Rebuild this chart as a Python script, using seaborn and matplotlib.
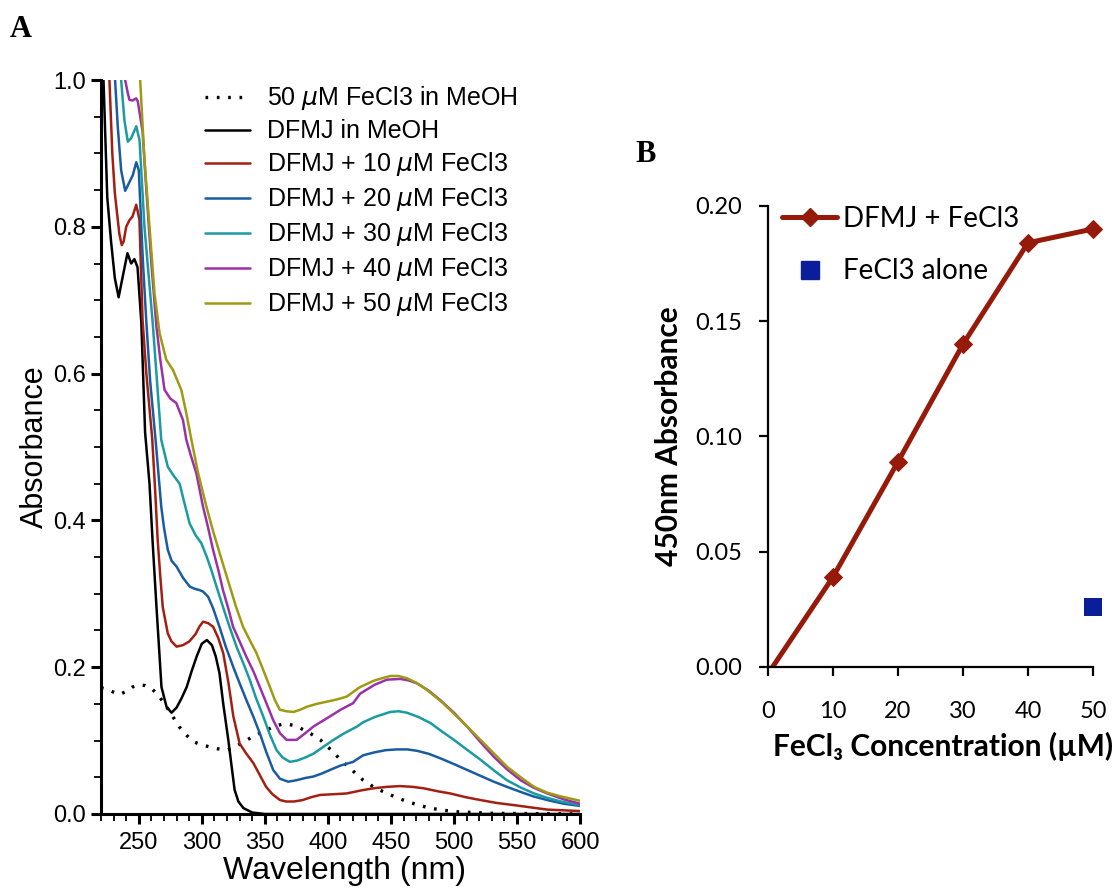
import matplotlib
matplotlib.use("Agg")
import matplotlib.pyplot as plt
import seaborn as sns
from matplotlib.lines import Line2D
from matplotlib.patches import Rectangle
from matplotlib.ticker import MultipleLocator, FormatStrFormatter

sns.set_style("ticks")
plt.rcParams['font.family'] = ['Liberation Sans', 'DejaVu Sans']
plt.rcParams['mathtext.fontset'] = 'dejavusans'
for k in ["text.color", "axes.labelcolor", "xtick.color", "ytick.color", "axes.edgecolor"]:
    plt.rcParams[k] = "black"

# ---------------- Panel A data (wavelength nm, absorbance) ----------------
fecl3_wl = [220, 225, 230, 235, 240, 245, 250, 255, 260, 265, 272, 278, 282, 288, 294, 300, 305,
            312, 320, 326, 333, 340, 346, 351, 358, 366, 372, 378, 385, 394, 402, 410, 419, 428,
            437, 447, 455, 463, 472, 481, 492, 503, 529, 600]
fecl3_abs = [0.172, 0.170, 0.166, 0.163, 0.167, 0.173, 0.176, 0.175, 0.171, 0.163, 0.146, 0.130,
             0.119, 0.107, 0.098, 0.094, 0.092, 0.089, 0.087, 0.091, 0.098, 0.105, 0.110, 0.114,
             0.120, 0.123, 0.121, 0.117, 0.111, 0.101, 0.088, 0.074, 0.060, 0.046, 0.036, 0.028,
             0.022, 0.017, 0.012, 0.008, 0.005, 0.003, 0.001, 0.000]

dfmj_wl = [221.5, 222, 225, 228, 231, 234, 237, 241, 244, 246.5, 249, 252, 255, 258.5, 261, 264,
           268, 272, 276, 280, 284, 288, 292, 296, 300, 304, 308, 311, 314, 317, 321, 324, 326,
           329, 333, 340, 350, 600]
dfmj_abs = [1.02, 1.00, 0.84, 0.78, 0.73, 0.704, 0.73, 0.764, 0.75, 0.756, 0.745, 0.67, 0.52,
            0.45, 0.37, 0.283, 0.173, 0.146, 0.138, 0.145, 0.158, 0.173, 0.195, 0.215, 0.232,
            0.237, 0.230, 0.215, 0.192, 0.150, 0.101, 0.060, 0.033, 0.017, 0.008, 0.002, 0.0, 0.0]

fe10_wl = [226.2, 226.7, 229, 231, 234.6, 236.5, 238, 240, 242.6, 245, 248, 250.5, 253, 256, 260.7,
           263, 265, 267, 269, 273, 276, 280, 285, 290, 295, 298, 301, 305, 309, 313, 317, 321,
           325, 330, 335, 341, 346, 351, 356, 362, 367, 373, 380, 387, 394, 405, 415, 426, 436,
           447, 457, 467, 476, 487, 497, 509, 521, 534, 548, 561, 574, 587, 600]
fe10_abs = [1.02, 1.00, 0.90, 0.846, 0.79, 0.775, 0.78, 0.80, 0.809, 0.814, 0.83, 0.81, 0.673,
            0.60, 0.51, 0.44, 0.373, 0.325, 0.282, 0.246, 0.235, 0.228, 0.230, 0.235, 0.245,
            0.255, 0.262, 0.260, 0.255, 0.240, 0.219, 0.180, 0.133, 0.096, 0.083, 0.069, 0.053,
            0.037, 0.027, 0.019, 0.017, 0.017, 0.019, 0.023, 0.026, 0.027, 0.028, 0.032, 0.035,
            0.037, 0.038, 0.037, 0.035, 0.031, 0.028, 0.023, 0.019, 0.015, 0.012, 0.009, 0.006,
            0.005, 0.004]

fe20_wl = [230.7, 231.2, 233.3, 236, 239.2, 242.6, 245.2, 248, 250, 253.2, 256, 259, 263.3, 267.8,
           270, 273, 276, 280, 285, 290.3, 294, 298.3, 301, 305, 309, 314, 319, 325, 330, 335.4,
           341, 346, 351, 356.6, 362, 368.5, 375, 382, 388.4, 395, 401.7, 410, 420, 428, 437,
           446, 455, 463, 471, 480, 489, 500, 510.5, 521, 531.6, 542, 553, 563, 574, 587, 600]
fe20_abs = [1.02, 1.00, 0.937, 0.877, 0.849, 0.861, 0.870, 0.888, 0.877, 0.755, 0.67, 0.59, 0.51,
            0.419, 0.39, 0.36, 0.345, 0.337, 0.322, 0.310, 0.307, 0.305, 0.303, 0.296, 0.280,
            0.255, 0.228, 0.200, 0.178, 0.155, 0.132, 0.110, 0.085, 0.060, 0.048, 0.044, 0.046,
            0.049, 0.051, 0.055, 0.060, 0.066, 0.071, 0.080, 0.084, 0.087, 0.088, 0.088, 0.086,
            0.082, 0.076, 0.068, 0.060, 0.052, 0.044, 0.037, 0.030, 0.024, 0.019, 0.014, 0.011]

fe30_wl = [235.5, 236, 238.6, 241.3, 244, 248, 250.6, 254.5, 258, 261, 264, 267.8, 273, 278,
           282.4, 286, 290.3, 295, 299.6, 304, 307.6, 312, 316.8, 322, 327.5, 333, 338, 343,
           348.7, 354, 359.3, 364, 370, 376, 382, 388.4, 396, 404.4, 413, 423, 428, 437, 449.4,
           456, 462.7, 472, 481.3, 490, 500, 510, 521, 532, 542, 553, 563.5, 574, 585, 600]
fe30_abs = [1.02, 1.00, 0.945, 0.916, 0.921, 0.937, 0.918, 0.80, 0.73, 0.67, 0.60, 0.51, 0.473,
            0.460, 0.450, 0.425, 0.396, 0.380, 0.369, 0.350, 0.332, 0.308, 0.282, 0.255, 0.228,
            0.205, 0.183, 0.158, 0.133, 0.108, 0.087, 0.077, 0.071, 0.073, 0.077, 0.082, 0.091,
            0.101, 0.110, 0.119, 0.125, 0.132, 0.139, 0.140, 0.138, 0.132, 0.124, 0.113, 0.101,
            0.088, 0.074, 0.059, 0.046, 0.036, 0.028, 0.022, 0.017, 0.012]

fe40_wl = [238.7, 239.2, 241.3, 242.6, 245, 247.9, 249.2, 253, 256, 260, 264, 267, 270.4, 275,
           279.7, 285, 287.7, 291, 295.7, 300.9, 305, 308.9, 313, 316.8, 321, 324.8, 330, 335.4,
           341, 346, 351, 356.6, 362, 367.3, 375.2, 382, 388.4, 395, 401.7, 410, 420, 425.6, 437,
           446.8, 457.4, 464, 470.7, 480, 489.2, 500, 510.5, 521, 531.6, 542, 552.9, 563, 574,
           587, 600]
fe40_abs = [1.02, 1.00, 0.982, 0.973, 0.972, 0.975, 0.971, 0.93, 0.85, 0.75, 0.664, 0.62, 0.578,
            0.566, 0.560, 0.537, 0.510, 0.490, 0.464, 0.419, 0.390, 0.360, 0.333, 0.305, 0.280,
            0.255, 0.235, 0.214, 0.194, 0.173, 0.152, 0.128, 0.110, 0.101, 0.101, 0.110, 0.119,
            0.126, 0.133, 0.142, 0.151, 0.164, 0.176, 0.183, 0.184, 0.182, 0.178, 0.168, 0.155,
            0.138, 0.119, 0.098, 0.078, 0.061, 0.046, 0.036, 0.028, 0.020, 0.014]

fe50_wl = [250.6, 251.1, 254.5, 258.5, 262.5, 266.5, 271.8, 277.1, 283.7, 287.7, 291.7, 297, 303.6,
           309, 314.2, 322.2, 327, 332.7, 338, 343.4, 349, 354, 358, 361.9, 367, 372.6, 378,
           383.2, 391, 399.1, 407, 415, 425.6, 437, 449.4, 456, 462.7, 470, 478.6, 490, 499.9,
           510, 521, 532, 542.3, 553, 563.5, 574, 584.7, 600]
fe50_abs = [1.02, 1.00, 0.891, 0.80, 0.709, 0.655, 0.619, 0.605, 0.578, 0.546, 0.510, 0.465,
            0.419, 0.385, 0.355, 0.310, 0.283, 0.255, 0.237, 0.219, 0.195, 0.173, 0.155, 0.142,
            0.140, 0.139, 0.142, 0.146, 0.150, 0.153, 0.156, 0.160, 0.173, 0.182, 0.188, 0.188,
            0.185, 0.179, 0.169, 0.153, 0.137, 0.120, 0.101, 0.082, 0.064, 0.050, 0.037, 0.029,
            0.024, 0.018]

labels_A = ["50 $\\mu$M FeCl3 in MeOH", "DFMJ in MeOH", "DFMJ + 10 $\\mu$M FeCl3",
            "DFMJ + 20 $\\mu$M FeCl3", "DFMJ + 30 $\\mu$M FeCl3", "DFMJ + 40 $\\mu$M FeCl3",
            "DFMJ + 50 $\\mu$M FeCl3"]
colors_A = ["black", "black", "#A31F12", "#1A5CA0", "#1A9BA0", "#9B30A8", "#9E9A12"]

# ---------------- Panel B data ----------------
conc = [0, 10, 20, 30, 40, 50]
abs450_dfmj = [-0.003, 0.039, 0.089, 0.140, 0.184, 0.190]
conc_alone = [50]
abs450_alone = [0.026]

# ---------------- Figure ----------------
fig = plt.figure(figsize=(11.12, 8.9), dpi=100)
axA = fig.add_axes([0.0908, 0.0854, 0.4308, 0.8247])
axB = fig.add_axes([0.6906, 0.2506, 0.2923, 0.518])

seriesA = [(fecl3_wl, fecl3_abs), (dfmj_wl, dfmj_abs), (fe10_wl, fe10_abs), (fe20_wl, fe20_abs),
           (fe30_wl, fe30_abs), (fe40_wl, fe40_abs), (fe50_wl, fe50_abs)]
for i, ((wl, ab), lab, col) in enumerate(zip(seriesA, labels_A, colors_A)):
    ls = (0, (0.8, 2.6)) if i == 0 else "-"
    sns.lineplot(x=wl, y=ab, ax=axA, color=col, linestyle=ls, linewidth=2.4 if i == 0 else 1.8,
                 label=lab, sort=False, estimator=None)

axA.set_xlim(220, 600)
axA.set_ylim(0, 1.0)
axA.xaxis.set_major_locator(MultipleLocator(50))
axA.xaxis.set_minor_locator(MultipleLocator(10))
axA.yaxis.set_major_locator(MultipleLocator(0.2))
axA.yaxis.set_minor_locator(MultipleLocator(0.05))
axA.yaxis.set_major_formatter(FormatStrFormatter("%.1f"))
for s in ["top", "right"]:
    axA.spines[s].set_visible(False)
for s in ["left", "bottom"]:
    axA.spines[s].set_linewidth(2.2)
axA.tick_params(which="major", direction="out", length=7, width=2.2, labelsize=17, pad=4)
axA.tick_params(which="minor", direction="out", length=5, width=1.3)
axA.tick_params(axis="x", which="major", pad=6)
axA.set_xlabel("Wavelength (nm)", fontsize=23)
axA.set_ylabel("Absorbance", fontsize=22)
axA.xaxis.set_label_coords(0.509, -0.057)
axA.yaxis.set_label_coords(-0.106, 0.5)

h, l = axA.get_legend_handles_labels()
axA.legend(h, l, loc="upper left", bbox_to_anchor=(0.2171, 0.994), frameon=False,
           fontsize=18, handlelength=1.8, handletextpad=0.68, labelspacing=0.28,
           borderpad=0, borderaxespad=0)

# Panel B
red = "#961A0A"
blue = "#0A1E9C"
sns.lineplot(x=conc, y=abs450_dfmj, ax=axB, color=red, linewidth=3.6, marker="D", markersize=9,
             markeredgecolor=red, sort=False, estimator=None, legend=False)
sns.scatterplot(x=conc_alone, y=abs450_alone, ax=axB, marker="s", s=185, color=blue,
                edgecolor=blue, linewidth=0, legend=False)
clip_rect = Rectangle((-0.1, 0.0), 1.3, 1.2, transform=axB.transAxes, facecolor="none")
for ln in axB.lines:
    ln.set_clip_path(clip_rect)
for coll in axB.collections:
    coll.set_clip_on(False)

axB.set_xlim(0, 50)
axB.set_ylim(0, 0.20)
axB.xaxis.set_major_locator(MultipleLocator(10))
axB.yaxis.set_major_locator(MultipleLocator(0.05))
axB.yaxis.set_major_formatter(FormatStrFormatter("%.2f"))
for s in ["top", "right"]:
    axB.spines[s].set_visible(False)
for s in ["left", "bottom"]:
    axB.spines[s].set_linewidth(1.6)
fontB = ["Lato", "DejaVu Sans"]
axB.tick_params(direction="out", length=6.5, width=1.6, labelsize=17)
axB.tick_params(axis="x", pad=18)
axB.tick_params(axis="y", pad=12)
for t in axB.get_xticklabels() + axB.get_yticklabels():
    t.set_fontfamily(fontB)
axB.set_xlabel("FeCl\u2083 Concentration (\u00b5M)", fontsize=21.5, fontweight="bold", family=fontB)
axB.set_ylabel("450nm Absorbance", fontsize=21.5, fontweight="bold", family=fontB)
axB.xaxis.set_label_coords(0.54, -0.140)
axB.yaxis.set_label_coords(-0.262, 0.5)

hB = [Line2D([], [], color=red, lw=3.6, marker="D", markersize=9),
      Line2D([], [], color=blue, lw=0, marker="s", markersize=13.5)]
axB.legend(hB, ["DFMJ + FeCl3", "FeCl3 alone"], loc="upper left", bbox_to_anchor=(0.043, 1.0),
           frameon=False, prop={"family": fontB, "size": 20}, handlelength=2.0,
           handletextpad=0.2, labelspacing=0.95, borderpad=0, borderaxespad=0, numpoints=1)

fig.text(0.009, 1 - 37 / 890, "A", family=["Liberation Serif"], fontweight="bold", fontsize=22,
         va="baseline", ha="left")
fig.text(635 / 1112, 1 - 162 / 890, "B", family=["Liberation Serif"], fontweight="bold",
         fontsize=22, va="baseline", ha="left")

fig.savefig("out.png", dpi=100)
